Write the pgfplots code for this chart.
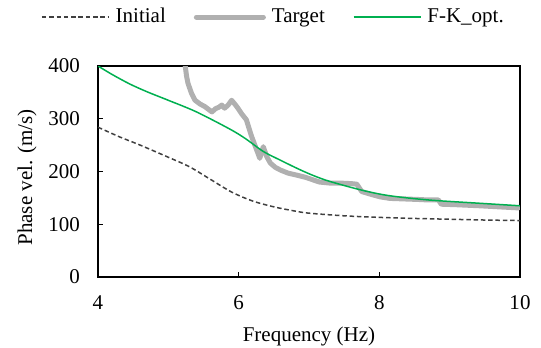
\documentclass[border=0pt]{standalone}
\usepackage{fontspec}
\setmainfont{Liberation Serif}
\usepackage{pgfplots}
\pgfplotsset{compat=1.18}
\definecolor{initc}{HTML}{404040}
\definecolor{targc}{HTML}{B0B0B0}
\definecolor{fkc}{HTML}{00B050}
\begin{document}
\fontsize{21bp}{25bp}\selectfont
\begin{tikzpicture}
\path[use as bounding box] (-98bp,-71bp) rectangle (443bp,277bp);
\begin{axis}[
  at={(0,0)}, anchor=south west,
  scale only axis, width=422bp, height=211bp,
  xmin=4, xmax=10, ymin=0, ymax=400,
  xtick={4,6,8,10}, ytick={0,100,200,300,400},
  tick align=inside, xtick pos=bottom, ytick pos=left,
  major tick length=5bp,
  axis line style={line width=1.5bp},
  every tick/.style={black, line width=1bp},
  /pgf/number format/assume math mode=true,
  ticklabel style={font=\fontsize{21bp}{25bp}\selectfont},
  xticklabel style={anchor=north, inner sep=0pt, yshift=-18bp},
  yticklabel style={anchor=east, inner sep=0pt, xshift=-18bp},
  xlabel={Frequency (Hz)}, ylabel={Phase vel. (m/s)},
  label style={font=\fontsize{21bp}{25bp}\selectfont},
  xlabel style={at={(axis description cs:0.5,0)}, anchor=north, inner sep=0pt, yshift=-49.5bp},
  ylabel style={at={(axis description cs:-0.168,0.472)}, anchor=center, inner sep=0pt},
  legend style={draw=none, fill=none, inner sep=0pt, at={(axis description cs:-0.135,1.232)}, anchor=west,
    font=\fontsize{21bp}{25bp}\selectfont, nodes={inner sep=0pt},
    /tikz/every odd column/.append style={column sep=6bp},
    /tikz/every even column/.append style={column sep=28bp}},
  legend columns=3,
  legend image code/.code={\draw[#1] (0bp,0bp) -- (67bp,0bp);},
]
\addplot[initc, line width=1.5bp, dash pattern=on 4.5bp off 2.8bp, smooth] coordinates {
(4.0,284) (4.3,266) (4.6,250) (5.0,227) (5.3,209) (5.6,185) (5.9,161) (6.2,144) (6.5,133) (6.8,125) (7.0,121) (7.5,116) (8.0,113) (8.5,111) (9.0,109.5) (9.5,108) (10,107)
};
\addlegendentry{Initial}
\addplot[targc, line width=5bp, line cap=round, line join=round] coordinates {
(5.24,400) (5.26,380) (5.28,367) (5.33,348) (5.38,335) (5.45,328) (5.52,323) (5.57,318) (5.62,313) (5.67,319) (5.72,322) (5.76,326) (5.80,320) (5.85,326) (5.90,335) (5.95,327) (5.99,320) (6.05,308) (6.11,298) (6.14,285) (6.18,268) (6.23,250) (6.27,236) (6.30,225) (6.35,247) (6.40,228) (6.45,216) (6.52,208) (6.59,203) (6.70,197) (6.83,193) (6.95,189) (7.06,184) (7.15,180) (7.30,178) (7.45,178) (7.60,177) (7.68,176) (7.75,162) (7.90,156) (8.01,152) (8.15,149) (8.35,148) (8.55,147) (8.70,146) (8.84,146) (8.88,138) (9.10,137) (9.43,135) (9.70,133) (9.98,131)
};
\addlegendentry{Target}
\addplot[fkc, line width=1.5bp, smooth] coordinates {
(4.0,400) (4.2,384) (4.45,366) (4.7,351) (5.0,335) (5.4,313) (5.88,280) (6.1,262) (6.35,238) (6.6,221) (6.83,206) (7.05,193) (7.3,181) (7.77,164) (8.15,154) (8.7,146) (9.4,140) (10,135)
};
\addlegendentry{F-K\_opt.}
\end{axis}
\end{tikzpicture}
\end{document}
